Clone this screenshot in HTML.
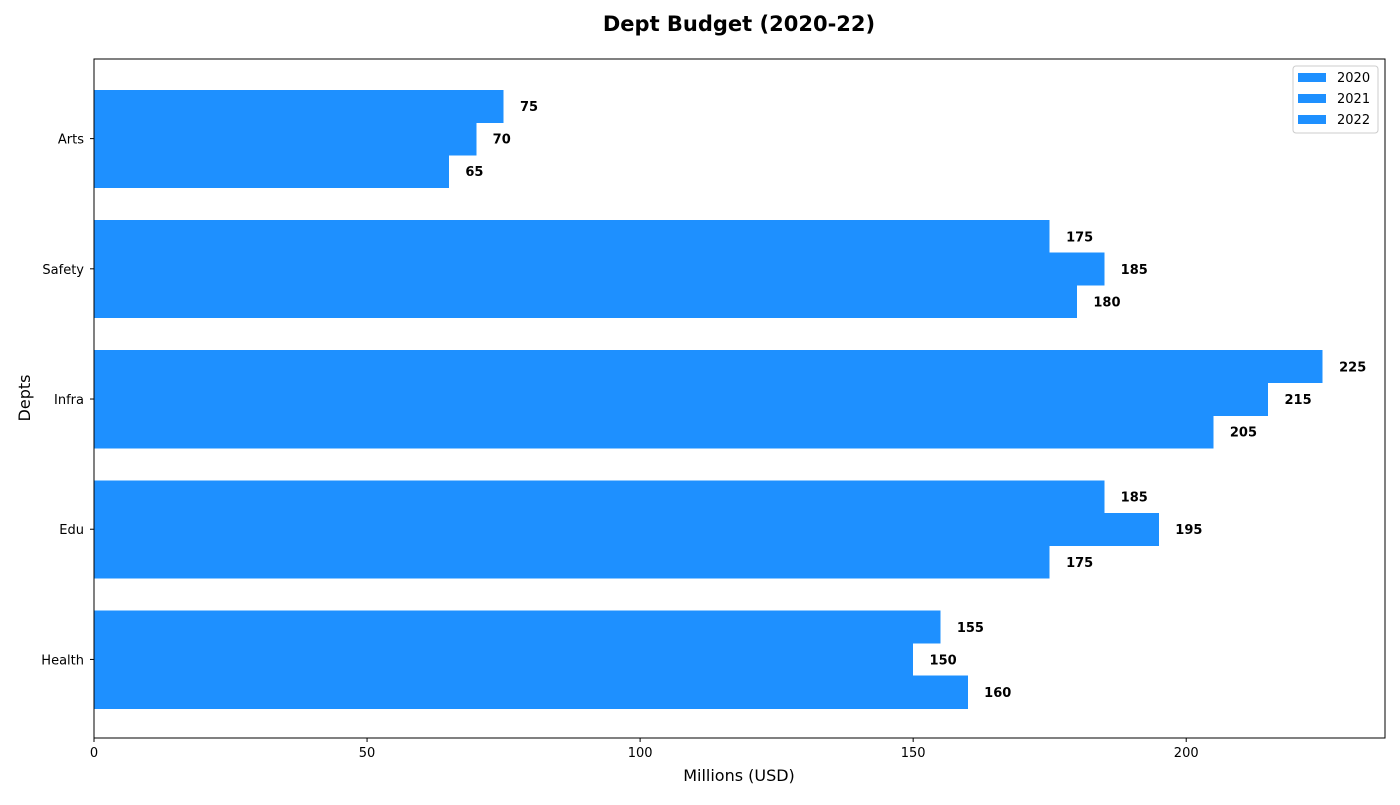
<!DOCTYPE html>
<html><head><meta charset="utf-8"><style>
body{margin:0;background:#fff;font-family:"Liberation Sans","DejaVu Sans",sans-serif;}
</style></head><body>
<svg id="chart" width="1400" height="800" xmlns="http://www.w3.org/2000/svg" font-family="DejaVu Sans, Liberation Sans, sans-serif">
<text x="739" y="31" text-anchor="middle" font-size="21" font-weight="bold">Dept Budget (2020-22)</text>
<g id="bars" shape-rendering="crispEdges"></g>
<g id="axes"></g>
<text x="739" y="781" text-anchor="middle" font-size="16">Millions (USD)</text>
<text transform="translate(30,398) rotate(-90)" text-anchor="middle" font-size="16">Depts</text>
<g>
<rect x="1293" y="66" width="85" height="67" fill="#fff" stroke="#ccc" rx="3"/>
<g id="legend"></g>
</g>
</svg>
<script>
const categories=["Health","Edu","Infra","Safety","Arts"];
const years=["2020","2021","2022"];
const v2020=[155,185,225,175,75];
const v2021=[150,195,215,185,70];
const v2022=[160,175,205,180,65];
const xTicks=[0,50,100,150,200];
const series=[v2020,v2021,v2022];
const L=94,R=1385,T=59,B=738;
const xMax=236.4, yMin=-0.615, yMax=4.6;
const X=v=>L+v/xMax*(R-L);
const Y=v=>B-(v-yMin)/(yMax-yMin)*(B-T)+1.5;
const NS="http://www.w3.org/2000/svg";
const bars=document.getElementById('bars'),axes=document.getElementById('axes'),leg=document.getElementById('legend');
function mk(tag,attrs,p){const e=document.createElementNS(NS,tag);for(const k in attrs)e.setAttribute(k,attrs[k]);p.appendChild(e);return e;}
const bh=0.25;
categories.forEach((c,i)=>{
 series.forEach((s,j)=>{
  const center=i+(1-j)*bh;
  const y0=Y(center+bh/2),y1=Y(center-bh/2);
  const r=mk('rect',{x:X(0),y:y0,width:X(s[i])-X(0),height:y1-y0+0.5,fill:'#1e90ff'},bars);
  
  
  const t=mk('text',{x:X(s[i]+3),y:Y(center)+5,'font-size':13,'font-weight':'bold'},bars);
  t.textContent=s[i];
  
  
 });
 mk('line',{x1:L-4,x2:L,y1:Y(i),y2:Y(i),stroke:'#000'},axes);
 const t=mk('text',{x:L-10,y:Y(i)+5,'text-anchor':'end','font-size':13},axes);
 t.textContent=c;
 
 
});
xTicks.forEach(v=>{
 mk('line',{x1:X(v),x2:X(v),y1:B,y2:B+4,stroke:'#000'},axes);
 const t=mk('text',{x:X(v),y:B+19,'text-anchor':'middle','font-size':13},axes);
 t.textContent=v;
 
 
});
const fr=mk('rect',{x:L,y:T,width:R-L,height:B-T,fill:'none',stroke:'#000','stroke-width':1},axes);


years.forEach((y,j)=>{
 const yy=77+j*21;
 mk('rect',{x:1298,y:yy-4,width:28,height:9,fill:'#1e90ff'},leg);
 const t=mk('text',{x:1337,y:yy+5,'font-size':13},leg);
 t.textContent=y;
 
 
});
</script>
</body></html>
